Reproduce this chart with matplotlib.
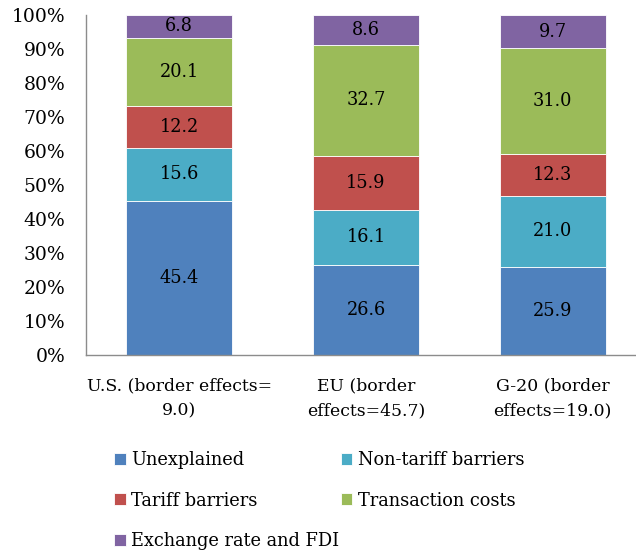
import numpy as np
import matplotlib
matplotlib.use("Agg")
import matplotlib.pyplot as plt

categories = ["U.S. (border effects=\n9.0)", "EU (border\neffects=45.7)", "G-20 (border\neffects=19.0)"]
series_names = ["Unexplained", "Non-tariff barriers", "Tariff barriers",
                "Transaction costs", "Exchange rate and FDI"]
unexplained = [45.4, 26.6, 25.9]
non_tariff = [15.6, 16.1, 21.0]
tariff = [12.2, 15.9, 12.3]
transaction = [20.1, 32.7, 31.0]
exchange_fdi = [6.8, 8.6, 9.7]
colors = ["#4F81BD", "#4BACC6", "#C0504D", "#9BBB59", "#8064A2"]
yticks = [0, 10, 20, 30, 40, 50, 60, 70, 80, 90, 100]

plt.rcParams["font.family"] = ["DejaVu Serif"]

fig = plt.figure(figsize=(6.36, 5.56), dpi=100)
ax = fig.add_axes([0.135, 0.3615, 0.881, 0.6115])

x = np.arange(len(categories))
series = [unexplained, non_tariff, tariff, transaction, exchange_fdi]
bottom = np.zeros(len(categories))
handles = []
for name, vals, c in zip(series_names, series, colors):
    vals = np.array(vals)
    b = ax.bar(x, vals, 0.57, bottom=bottom, color=c, edgecolor="white",
               linewidth=0.6, label=name)
    handles.append(b)
    for xi, v, bt in zip(x, vals, bottom):
        ax.text(xi, bt + v / 2, f"{v:.1f}", ha="center", va="center",
                fontsize=12.8, color="black")
    bottom = bottom + vals

ax.set_xlim(-0.5, 2.5)
ax.set_ylim(0, 100)
ax.set_yticks(yticks)
ax.set_yticklabels([f"{t}%" for t in yticks], fontsize=13.5)
ax.set_xticks(x)
ax.set_xticklabels(categories, fontsize=12.4, linespacing=1.6)
ax.tick_params(axis="x", length=0, pad=16)
ax.tick_params(axis="y", length=0, pad=15)
for s in ["top", "right"]:
    ax.spines[s].set_visible(False)
for s in ["left", "bottom"]:
    ax.spines[s].set_color("#8c8c8c")
    ax.spines[s].set_linewidth(1.0)

# legend is filled column by column, so reorder to read row by row
order = [0, 2, 4, 1, 3]
fig.legend(handles=[handles[i] for i in order],
           labels=[series_names[i] for i in order],
           loc="upper left", bbox_to_anchor=(0.154, 0.2176), ncol=2,
           frameon=False, fontsize=12.8, handlelength=0.67,
           handleheight=0.67, handletextpad=0.3, columnspacing=0.07,
           labelspacing=1.27)

fig.savefig("out.png", dpi=100)
